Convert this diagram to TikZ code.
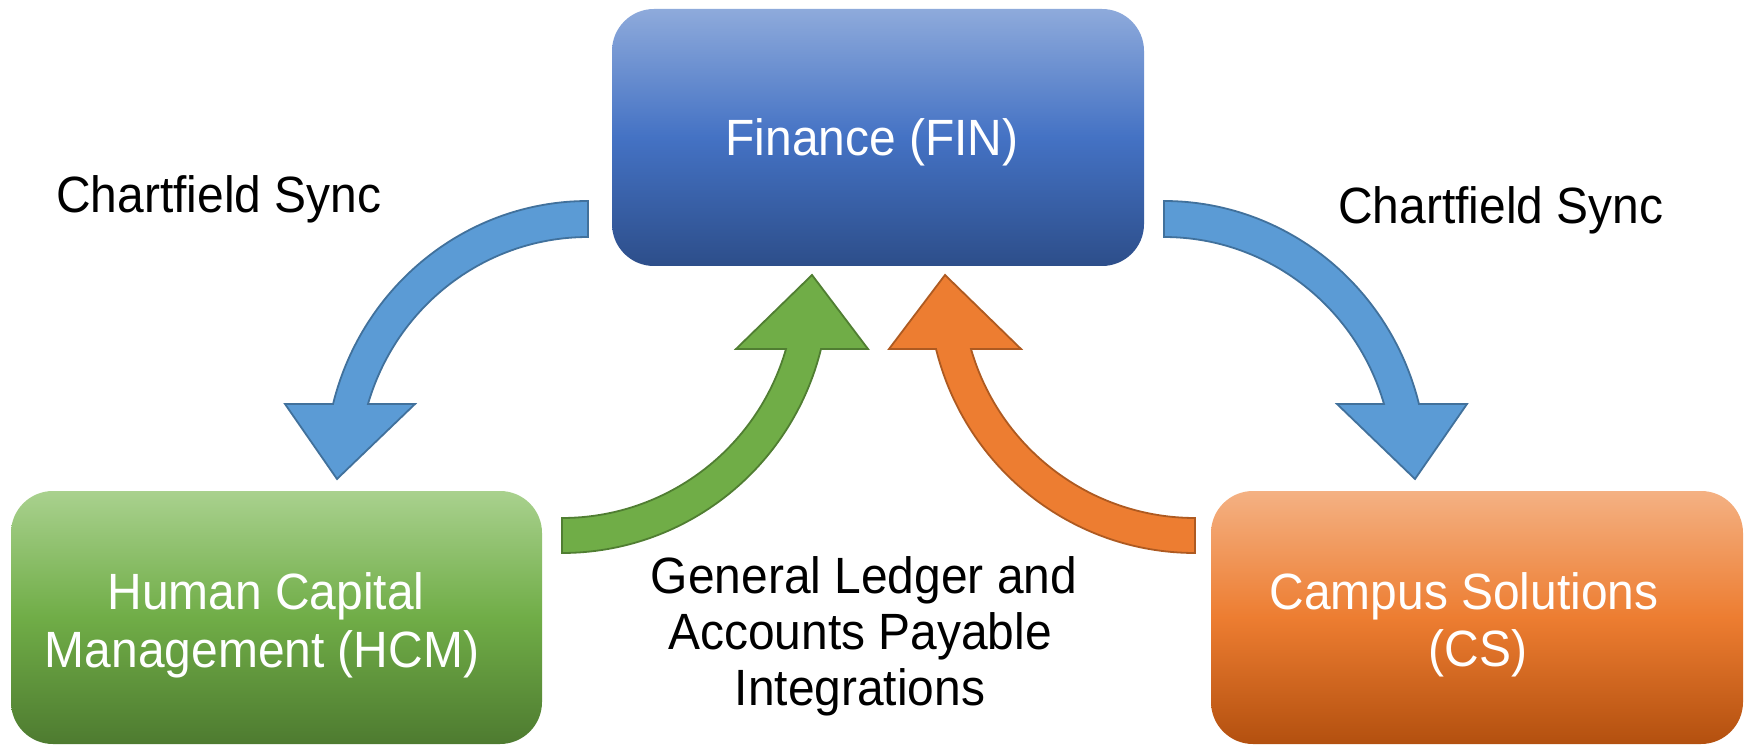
\documentclass[tikz,border=0pt]{standalone}
\usepackage{fontspec}
\setmainfont{Liberation Sans}[FakeStretch=0.94]
\definecolor{blueFill}{HTML}{5B9BD5}
\definecolor{blueLine}{HTML}{41719C}
\definecolor{greenFill}{HTML}{70AD47}
\definecolor{greenLine}{HTML}{507E32}
\definecolor{orangeFill}{HTML}{ED7D31}
\definecolor{orangeLine}{HTML}{AE5A21}
\definecolor{finTop}{HTML}{8EAADB}
\definecolor{finMid}{HTML}{4472C4}
\definecolor{finBot}{HTML}{2D4E8A}
\definecolor{hcmTop}{HTML}{A9D18E}
\definecolor{hcmMid}{HTML}{70AD47}
\definecolor{hcmBot}{HTML}{4E7B30}
\definecolor{csTop}{HTML}{F4B183}
\definecolor{csMid}{HTML}{ED7D31}
\definecolor{csBot}{HTML}{B3500F}
\begin{document}
\begin{tikzpicture}[x=1pt,y=1pt,
  lbl/.style={font=\fontsize{51}{58}\selectfont, inner sep=0pt, anchor=base},
  wlbl/.style={lbl, text=white},
  sysbox/.style={rounded corners=42pt, inner sep=0pt, minimum width=532pt},
  bluearrow/.style={fill=blueFill, draw=blueLine, line width=1.8pt, line join=miter},
  greenarrow/.style={fill=greenFill, draw=greenLine, line width=1.8pt, line join=miter},
  orangearrow/.style={fill=orangeFill, draw=orangeLine, line width=1.8pt, line join=miter}]
\fill[white] (0,0) rectangle (1750,745);
\useasboundingbox (0,0) rectangle (1750,745);

% boxes
\node[sysbox, minimum height=257pt, top color=finTop, bottom color=finBot, middle color=finMid] (fin) at (878,607.5) {};
\node[sysbox, minimum width=531pt, minimum height=253pt, top color=hcmTop, bottom color=hcmBot, middle color=hcmMid] (hcm) at (276.5,127.5) {};
\node[sysbox, minimum height=253pt, top color=csTop, bottom color=csBot, middle color=csMid] (cs) at (1477,127.5) {};

% box texts
\node[wlbl] (finT) at (872,589) {Finance (FIN)};
\node[wlbl] (hcmT1) at (266,136) {Human Capital};
\node[wlbl] (hcmT2) at (262,78) {Management (HCM)};
\node[wlbl] (csT1) at (1464,136) {Campus Solutions};
\node[wlbl] (csT2) at (1478,79) {(CS)};

% free labels
\node[lbl, anchor=base west] (syncL) at (56,532) {Chartfield Sync};
\node[lbl, anchor=base west] (syncR) at (1338,521) {Chartfield Sync};
\node[lbl] (glA) at (864,152) {General Ledger and};
\node[lbl] (glB) at (860,96) {Accounts Payable};
\node[lbl] (glC) at (860,40) {Integrations};

% blue arrow FIN -> HCM
\draw[bluearrow] (588,544) arc[start angle=90, end angle=165.8, x radius=263, y radius=269]
  -- (285,341) -- (337,266) -- (415,341) -- (368,341)
  arc[start angle=163.54, end angle=90, x radius=229.4, y radius=233] -- cycle;
% blue arrow FIN -> CS (mirror)
\begin{scope}[xshift=1752pt, xscale=-1]
\draw[bluearrow] (588,544) arc[start angle=90, end angle=165.8, x radius=263, y radius=269]
  -- (285,341) -- (337,266) -- (415,341) -- (368,341)
  arc[start angle=163.54, end angle=90, x radius=229.4, y radius=233] -- cycle;
\end{scope}

% green arrow HCM -> FIN
\draw[greenarrow] (562,192) arc[start angle=270, end angle=346.02, x radius=266.9, y radius=269]
  -- (868,396) -- (812,470) -- (736,396) -- (786,396)
  arc[start angle=343.87, end angle=270, x radius=233.2, y radius=234] -- cycle;
% orange arrow CS -> FIN (mirror)
\begin{scope}[xshift=1757pt, xscale=-1]
\draw[orangearrow] (562,192) arc[start angle=270, end angle=346.02, x radius=266.9, y radius=269]
  -- (868,396) -- (812,470) -- (736,396) -- (786,396)
  arc[start angle=343.87, end angle=270, x radius=233.2, y radius=234] -- cycle;
\end{scope}
\end{tikzpicture}
\end{document}
